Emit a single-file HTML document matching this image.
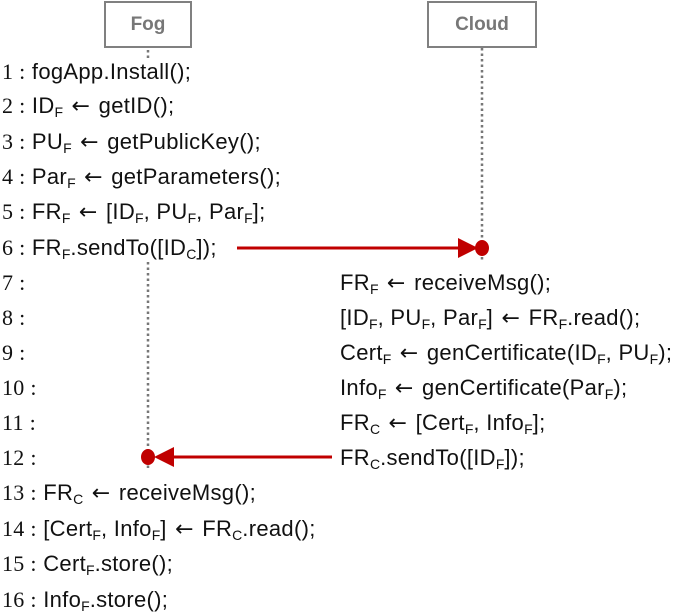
<!DOCTYPE html>
<html><head><meta charset="utf-8"><style>
body{margin:0;width:685px;height:612px;background:#fff;position:relative;overflow:hidden;font-family:"Liberation Sans",sans-serif;color:#111}
.l{position:absolute;left:2px;font-size:22px;white-space:nowrap;line-height:24px;letter-spacing:0.3px}
.r{position:absolute;left:340px;font-size:22px;white-space:nowrap;line-height:24px;letter-spacing:0.3px}
.n{font-family:"Liberation Serif",serif}
.a{font-family:"DejaVu Sans",sans-serif;font-size:22px;display:inline-block;margin:0 2px}
sub{font-size:14px;vertical-align:-4px;line-height:0;letter-spacing:0}
.box{position:absolute;border:2px solid #808080;background:#fff;color:#777;font-weight:bold;font-size:19px;text-align:center;box-sizing:border-box}
</style></head><body>
<svg width="685" height="612" style="position:absolute;left:0;top:0">
<line x1="148" y1="50" x2="148" y2="60" stroke="#777" stroke-width="2.5" stroke-dasharray="2.5,3"/>
<line x1="148" y1="262" x2="148" y2="470" stroke="#777" stroke-width="2.5" stroke-dasharray="2.5,3"/>
<line x1="482" y1="48" x2="482" y2="262" stroke="#777" stroke-width="2.5" stroke-dasharray="2.5,3"/>
<line x1="237" y1="248" x2="462" y2="248" stroke="#c00000" stroke-width="3"/>
<polygon points="458,238 478,248 458,258" fill="#c00000"/>
<ellipse cx="482" cy="248" rx="7" ry="8" fill="#c00000"/>
<line x1="168" y1="457" x2="332" y2="457" stroke="#c00000" stroke-width="3"/>
<polygon points="174,447 154,457 174,467" fill="#c00000"/>
<ellipse cx="148" cy="457" rx="7" ry="8" fill="#c00000"/>
</svg>
<div class="box" style="left:104px;top:1px;width:88px;height:47px;line-height:43px">Fog</div>
<div class="box" style="left:427px;top:1px;width:110px;height:47px;line-height:43px">Cloud</div>

<div class="l" style="top:60px"><span class="n">1 :</span> fogApp.Install();</div>
<div class="l" style="top:94px"><span class="n">2 :</span> ID<sub>F</sub> <span class="a">←</span> getID();</div>
<div class="l" style="top:130px"><span class="n">3 :</span> PU<sub>F</sub> <span class="a">←</span> getPublicKey();</div>
<div class="l" style="top:165px"><span class="n">4 :</span> Par<sub>F</sub> <span class="a">←</span> getParameters();</div>
<div class="l" style="top:200px"><span class="n">5 :</span> FR<sub>F</sub> <span class="a">←</span> [ID<sub>F</sub>, PU<sub>F</sub>, Par<sub>F</sub>];</div>
<div class="l" style="top:236px"><span class="n">6 :</span> FR<sub>F</sub>.sendTo([ID<sub>C</sub>]);</div>
<div class="l" style="top:271px"><span class="n">7 :</span></div>
<div class="l" style="top:306px"><span class="n">8 :</span></div>
<div class="l" style="top:341px"><span class="n">9 :</span></div>
<div class="l" style="top:376px"><span class="n">10 :</span></div>
<div class="l" style="top:411px"><span class="n">11 :</span></div>
<div class="l" style="top:446px"><span class="n">12 :</span></div>
<div class="l" style="top:481px"><span class="n">13 :</span> FR<sub>C</sub> <span class="a">←</span> receiveMsg();</div>
<div class="l" style="top:517px"><span class="n">14 :</span> [Cert<sub>F</sub>, Info<sub>F</sub>] <span class="a">←</span> FR<sub>C</sub>.read();</div>
<div class="l" style="top:552px"><span class="n">15 :</span> Cert<sub>F</sub>.store();</div>
<div class="l" style="top:588px"><span class="n">16 :</span> Info<sub>F</sub>.store();</div>

<div class="r" style="top:271px">FR<sub>F</sub> <span class="a">←</span> receiveMsg();</div>
<div class="r" style="top:306px">[ID<sub>F</sub>, PU<sub>F</sub>, Par<sub>F</sub>] <span class="a">←</span> FR<sub>F</sub>.read();</div>
<div class="r" style="top:341px">Cert<sub>F</sub> <span class="a">←</span> genCertificate(ID<sub>F</sub>, PU<sub>F</sub>);</div>
<div class="r" style="top:376px">Info<sub>F</sub> <span class="a">←</span> genCertificate(Par<sub>F</sub>);</div>
<div class="r" style="top:411px">FR<sub>C</sub> <span class="a">←</span> [Cert<sub>F</sub>, Info<sub>F</sub>];</div>
<div class="r" style="top:446px">FR<sub>C</sub>.sendTo([ID<sub>F</sub>]);</div>
</body></html>
